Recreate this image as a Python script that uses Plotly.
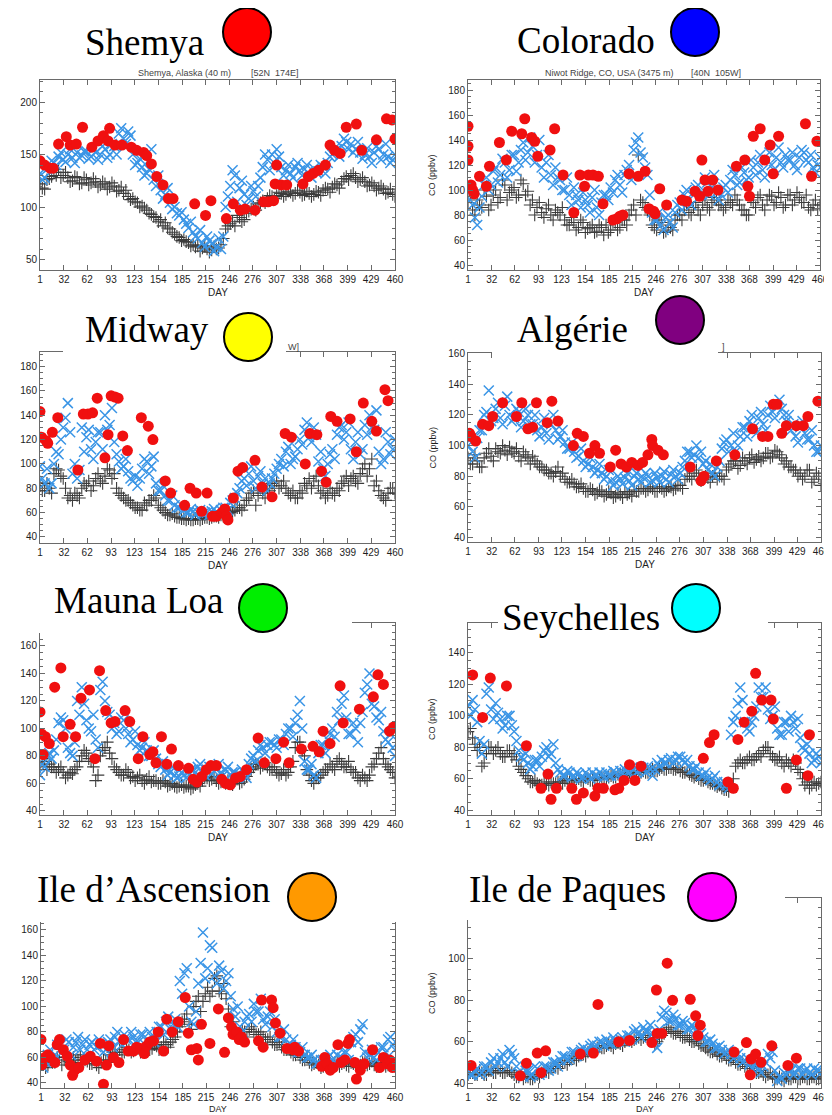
import plotly.graph_objects as go

# page window is 832x1115; the html body has an 8px margin, so the figure is 8px smaller
PAGE_W, PAGE_H, OFF = 832, 1115, 8
W, H = PAGE_W - OFF, PAGE_H - OFF

MODEL_DAYS = [1, 7, 13, 19, 25, 31, 37, 43, 49, 55, 61, 67, 73, 79, 85, 91, 97, 103, 109, 115,
              121, 127, 133, 139, 145, 151, 157, 163, 169, 175, 181, 187, 193, 199, 205, 211, 217,
              223, 229, 235, 241, 247, 253, 259, 265, 271, 277, 283, 289, 295, 301, 307, 313, 319,
              325, 331, 337, 343, 349, 355, 361, 367, 373, 379, 385, 391, 397, 403, 409, 415, 421,
              427, 433, 439, 445, 451, 457]
MODEL_DAYS_ALT = [4, 10, 16, 22, 28, 34, 40, 46, 52, 58, 64, 70, 76, 82, 88, 94, 100, 106, 112, 118,
                  124, 130, 136, 142, 148, 154, 160, 166, 172, 178, 184, 190, 196, 202, 208, 214, 220,
                  226, 232, 238, 244, 250, 256, 262, 268, 274, 280, 286, 292, 298, 304, 310, 316, 322,
                  328, 334, 340, 346, 352, 358, 364, 370, 376, 382, 388, 394, 400, 406, 412, 418, 424,
                  430, 436, 442, 448, 454, 460]

XTICKS = [1, 32, 62, 93, 123, 154, 185, 215, 246, 276, 307, 338, 368, 399, 429, 460]

# ---------------- Shemya ----------------
shemya_obs_day = [1, 7, 14, 18, 25, 35, 40, 48, 56, 68, 76, 83, 89, 91, 98, 107, 119, 126, 135, 139,
                  145, 152, 160, 167, 173, 201, 215, 222, 242, 251, 260, 266, 279, 290, 296, 303, 305,
                  307, 313, 320, 341, 348, 354, 361, 370, 376, 382, 389, 397, 410, 417, 436, 449, 456, 460]
shemya_obs_co = [144, 140, 137, 137, 160, 167, 159, 160, 176, 157, 163, 168, 163, 175, 159, 159, 157, 154, 152, 149,
                 141, 129, 121, 108, 108, 103, 92, 106, 89, 103, 97, 98, 97, 105, 105, 106, 122,
                 140, 121, 121, 122, 129, 132, 135, 140, 159, 154, 151, 176, 179, 154, 164, 184, 183, 165]
shemya_model_a = [132, 128, 138, 142, 148, 145, 150, 147, 152, 149,
                  153, 148, 152, 150, 155, 150, 158, 170, 165, 172,
                  150, 142, 138, 132, 155, 120, 116, 112, 104, 100,
                  92, 88, 80, 76, 70, 66, 72, 65, 62, 60,
                  100, 120, 130, 118, 112, 108, 115, 120, 138, 145,
                  150, 155, 138, 135, 132, 138, 135, 136, 132, 137,
                  134, 138, 142, 150, 155, 158, 162, 160, 155, 152,
                  150, 148, 152, 155, 150, 148, 145]
shemya_model_a_alt = [126, 136, 144, 140, 152, 143, 155, 142, 147, 153,
                      146, 155, 145, 158, 147, 160, 150, 175, 160, 168,
                      140, 146, 130, 136, 126, 130, 108, 118, 98, 94,
                      95, 84, 86, 72, 78, 62, 68, 58, 70, 72,
                      110, 135, 105, 125, 102, 120, 110, 128, 150, 135,
                      142, 148, 130, 140, 128, 142, 130, 140, 128, 133,
                      140, 132, 148, 156, 148, 165, 155, 152, 162, 146,
                      156, 142, 158, 145, 160, 142, 150]
shemya_model_b = [122, 117, 127, 133, 136, 130, 128, 125, 128, 123,
                  126, 123, 124, 121, 122, 119, 120, 116, 113, 110,
                  108, 104, 101, 97, 93, 90, 88, 85, 79, 74,
                  71, 69, 66, 64, 63, 61, 60, 59, 60, 64,
                  79, 84, 82, 90, 88, 96, 100, 103, 106, 108,
                  110, 111, 113, 112, 114, 113, 114, 112, 113, 112,
                  114, 116, 117, 119, 121, 124, 129, 130, 128, 126,
                  124, 121, 120, 118, 117, 114, 112]
shemya_model_b_alt = [118, 126, 129, 130, 128, 133, 124, 129, 122, 128,
                      121, 127, 119, 124, 117, 123, 115, 119, 116, 107,
                      105, 100, 99, 94, 91, 86, 82, 80, 76, 72,
                      68, 67, 63, 62, 58, 63, 57, 62, 61, 70,
                      82, 86, 92, 86, 94, 98, 97, 104, 104, 111,
                      108, 114, 110, 115, 111, 116, 111, 115, 110, 115,
                      111, 118, 114, 122, 118, 127, 126, 132, 124, 128,
                      120, 123, 116, 120, 113, 117, 110]

# ---------------- Colorado ----------------
colorado_obs_day = [1, 1, 1, 5, 7, 9, 16, 25, 29, 42, 51, 58, 71, 75, 84, 88, 92, 108, 114, 125, 139,
                    147, 153, 158, 164, 171, 177, 190, 195, 199, 203, 211, 223, 232, 237, 243, 245, 251,
                    260, 280, 286, 297, 303, 306, 310, 314, 320, 327, 351, 362, 366, 368, 373, 382, 388,
                    395, 399, 406, 441, 449, 456]
colorado_obs_co = [151, 135, 124, 104, 100, 97, 111, 103, 119, 138, 124, 147, 145, 157, 142, 139, 127, 132, 149, 112, 82,
                   112, 103, 112, 112, 111, 89, 76, 77, 79, 80, 113, 111, 115, 85, 83, 81, 101,
                   88, 92, 91, 99, 95, 124, 108, 99, 108, 100, 119, 124, 103, 95, 143, 149, 124,
                   136, 113, 143, 153, 111, 139]
colorado_model_a = [98, 88, 72, 95, 110, 104, 118, 112, 122, 116,
                    128, 122, 138, 130, 135, 128, 118, 122, 112, 118,
                    108, 100, 96, 102, 92, 98, 88, 94, 86, 90,
                    96, 102, 108, 104, 112, 120, 132, 142, 126, 112,
                    82, 76, 72, 78, 74, 82, 90, 96, 92, 98,
                    104, 98, 106, 102, 98, 96, 104, 108, 112, 106,
                    114, 110, 118, 122, 116, 124, 120, 126, 122, 128,
                    124, 120, 126, 130, 122, 118, 120]
colorado_model_a_alt = [92, 78, 86, 104, 100, 115, 106, 125, 110, 128,
                        115, 132, 124, 142, 122, 140, 110, 128, 104, 110,
                        100, 110, 88, 96, 86, 92, 82, 100, 80, 96,
                        92, 98, 112, 98, 116, 108, 138, 130, 118, 96,
                        76, 82, 68, 80, 70, 88, 84, 100, 88, 102,
                        96, 110, 96, 112, 92, 102, 98, 116, 104, 118,
                        108, 124, 112, 128, 110, 130, 116, 134, 118, 124,
                        130, 116, 132, 124, 128, 114, 126]
colorado_model_b = [90, 84, 92, 86, 95, 88, 100, 94, 104, 98,
                    102, 96, 105, 99, 92, 86, 82, 85, 80, 84,
                    80, 76, 72, 74, 70, 74, 69, 72, 67, 70,
                    72, 68, 74, 70, 76, 80, 88, 128, 90, 84,
                    72, 68, 74, 67, 70, 76, 80, 84, 82, 86,
                    84, 88, 86, 90, 92, 88, 86, 90, 96, 88,
                    84, 80, 90, 94, 88, 92, 95, 90, 94, 88,
                    96, 92, 94, 90, 86, 88, 85]
colorado_model_b_alt = [96, 80, 88, 100, 84, 96, 90, 108, 92, 100,
                        94, 108, 96, 88, 80, 90, 78, 88, 76, 82,
                        86, 72, 78, 68, 76, 66, 70, 66, 72, 64,
                        66, 74, 68, 76, 72, 84, 80, 92, 86, 80,
                        70, 76, 66, 72, 68, 80, 76, 88, 80, 90,
                        80, 92, 84, 94, 88, 84, 92, 88, 92, 84,
                        80, 92, 86, 96, 84, 96, 88, 98, 86, 96,
                        88, 98, 90, 96, 84, 92, 88]

# ---------------- Midway ----------------
midway_obs_day = [1, 3, 9, 11, 17, 24, 50, 57, 63, 69, 75, 85, 89, 93, 98, 102, 108, 114, 132, 141, 147,
                  163, 170, 188, 195, 203, 210, 217, 224, 229, 236, 240, 242, 244, 251, 257, 263, 279,
                  288, 301, 318, 326, 344, 350, 359, 365, 371, 377, 385, 402, 410, 419, 430, 436, 447, 451]
midway_obs_co = [143, 122, 119, 117, 126, 138, 95, 141, 141, 142, 154, 105, 124, 156, 155, 154, 123, 111, 138, 131, 120,
                 86, 76, 66, 80, 76, 61, 76, 57, 57, 60, 63, 57, 54, 72, 94, 97, 103,
                 81, 73, 125, 122, 100, 125, 124, 94, 85, 139, 135, 137, 110, 150, 135, 127, 161, 152]
midway_model_a = [98, 84, 80, 100, 108, 130, 150, 92, 88, 130,
                  122, 112, 118, 126, 140, 132, 118, 102, 98, 94,
                  86, 82, 96, 102, 98, 84, 78, 74, 70, 66,
                  64, 62, 60, 61, 60, 59, 60, 61, 60, 62,
                  64, 68, 72, 80, 88, 92, 86, 90, 84, 78,
                  88, 96, 104, 110, 100, 106, 120, 128, 122, 130,
                  102, 96, 100, 112, 124, 132, 126, 112, 118, 108,
                  132, 140, 128, 110, 104, 118, 112]
midway_model_a_alt = [88, 96, 84, 110, 120, 138, 126, 100, 95, 110,
                      128, 104, 126, 112, 128, 146, 108, 96, 104, 88,
                      90, 88, 104, 92, 106, 78, 82, 70, 74, 64,
                      66, 60, 63, 58, 62, 60, 58, 63, 59, 64,
                      62, 70, 76, 86, 82, 98, 80, 94, 88, 84,
                      92, 100, 98, 114, 104, 112, 116, 134, 118, 124,
                      110, 90, 108, 104, 130, 120, 134, 104, 126, 112,
                      124, 130, 144, 100, 126, 108, 120]
midway_model_b = [82, 78, 80, 92, 95, 88, 72, 70, 74, 80,
                  82, 78, 88, 86, 90, 95, 92, 76, 72, 70,
                  66, 64, 62, 66, 70, 72, 64, 60, 58, 57,
                  56, 55, 55, 54, 55, 55, 56, 56, 57, 58,
                  58, 60, 62, 64, 66, 72, 78, 74, 76, 80,
                  84, 86, 82, 80, 74, 72, 78, 84, 88, 86,
                  82, 78, 74, 76, 80, 84, 90, 88, 86, 92,
                  100, 96, 82, 78, 72, 76, 80]
midway_model_b_alt = [78, 84, 76, 96, 90, 80, 74, 76, 72, 84,
                      86, 82, 92, 84, 96, 88, 80, 74, 70, 68,
                      64, 62, 68, 70, 74, 66, 62, 58, 59, 56,
                      55, 54, 54, 55, 54, 56, 55, 57, 56, 57,
                      59, 61, 64, 62, 70, 76, 66, 80, 72, 78,
                      82, 80, 86, 76, 78, 72, 76, 82, 80, 90,
                      76, 72, 80, 74, 78, 86, 82, 90, 84, 96,
                      90, 104, 86, 74, 70, 80, 76]

# ---------------- Algerie ----------------
algerie_obs_day = [3, 5, 11, 20, 28, 33, 46, 64, 71, 79, 85, 90, 104, 110, 118, 138, 143, 151, 159, 166,
                   172, 186, 193, 200, 207, 214, 222, 228, 235, 240, 241, 248, 255, 290, 304, 308, 324,
                   348, 371, 384, 391, 398, 403, 409, 415, 428, 437, 443, 456]
algerie_obs_co = [108, 106, 103, 114, 113, 119, 128, 119, 128, 111, 112, 128, 115, 129, 116, 100, 108, 106, 95, 100,
                  95, 86, 97, 88, 86, 89, 87, 89, 94, 104, 100, 97, 94, 86, 77, 80, 90,
                  94, 111, 106, 106, 127, 127, 108, 113, 113, 113, 119, 129]
algerie_model_a = [100, 96, 105, 110, 122, 116, 124, 118, 126, 120,
                   118, 122, 116, 120, 114, 110, 112, 108, 114, 110,
                   106, 102, 98, 96, 93, 90, 88, 86, 84, 82,
                   80, 77, 76, 78, 79, 77, 80, 78, 79, 80,
                   77, 79, 80, 78, 81, 80, 82, 90, 96, 94,
                   92, 88, 84, 82, 86, 98, 104, 100, 96, 106,
                   112, 116, 112, 118, 114, 120, 122, 126, 124, 116,
                   110, 106, 112, 108, 104, 100, 96]
algerie_model_a_alt = [104, 92, 110, 120, 136, 118, 128, 114, 132, 116,
                       124, 112, 124, 114, 120, 106, 118, 104, 120, 104,
                       110, 98, 102, 92, 98, 86, 92, 82, 88, 78,
                       84, 74, 80, 75, 82, 74, 82, 76, 82, 76,
                       82, 76, 83, 76, 84, 78, 86, 96, 92, 100,
                       96, 90, 88, 80, 90, 102, 96, 108, 100, 112,
                       106, 120, 108, 122, 110, 126, 118, 130, 120, 120,
                       114, 102, 116, 104, 110, 96, 100]
algerie_model_b = [92, 88, 90, 86, 95, 93, 98, 95, 97, 99,
                   95, 93, 96, 92, 93, 88, 86, 84, 82, 83,
                   80, 78, 76, 75, 73, 72, 70, 71, 69, 70,
                   68, 69, 67, 68, 70, 69, 71, 70, 72, 71,
                   72, 70, 72, 71, 73, 72, 74, 78, 80, 82,
                   80, 78, 79, 80, 78, 80, 84, 88, 90, 87,
                   90, 92, 89, 93, 92, 95, 93, 96, 92, 90,
                   86, 84, 82, 80, 84, 78, 80]
algerie_model_b_alt = [88, 94, 86, 92, 98, 90, 96, 100, 94, 96,
                       98, 90, 94, 88, 90, 86, 84, 82, 80, 86,
                       82, 76, 78, 73, 75, 70, 72, 68, 71, 67,
                       70, 66, 69, 66, 68, 67, 70, 72, 70, 73,
                       70, 73, 70, 73, 71, 74, 72, 80, 78, 84,
                       77, 80, 76, 82, 80, 78, 86, 90, 85, 92,
                       88, 94, 91, 90, 95, 92, 97, 94, 88, 86,
                       84, 80, 78, 84, 76, 82, 74]

# ---------------- Mauna Loa ----------------
maunaloa_obs_day = [1, 3, 5, 8, 13, 20, 28, 31, 40, 47, 54, 65, 72, 78, 86, 93, 98, 111, 117, 128, 134,
                    143, 147, 151, 158, 165, 171, 180, 193, 199, 204, 210, 216, 222, 229, 236, 241, 247,
                    254, 260, 268, 283, 291, 306, 316, 323, 339, 354, 362, 367, 376, 389, 393, 414, 432,
                    438, 445, 453, 458]
maunaloa_obs_co = [112, 96, 81, 94, 89, 130, 144, 94, 103, 94, 122, 128, 78, 142, 113, 104, 105, 113, 105, 78, 94,
                   81, 83, 75, 94, 74, 85, 73, 71, 63, 61, 65, 70, 73, 73, 63, 60, 59,
                   64, 65, 70, 93, 75, 78, 90, 75, 85, 87, 83, 98, 89, 131, 104, 114, 123,
                   139, 132, 98, 101]
maunaloa_model_a = [66, 72, 82, 84, 104, 106, 86, 80, 120, 130,
                    106, 98, 92, 128, 120, 110, 104, 98, 106, 96,
                    92, 88, 86, 84, 80, 78, 72, 70, 68, 66,
                    65, 66, 68, 70, 72, 68, 70, 67, 70, 68,
                    70, 66, 68, 66, 68, 74, 80, 84, 86, 88,
                    90, 86, 92, 96, 100, 104, 120, 76, 70, 66,
                    82, 88, 92, 100, 112, 118, 108, 96, 100, 104,
                    126, 140, 116, 106, 98, 90, 86]
maunaloa_model_a_alt = [74, 80, 78, 92, 108, 100, 82, 90, 110, 118,
                        100, 110, 86, 134, 112, 100, 96, 108, 100, 90,
                        98, 84, 90, 80, 84, 74, 76, 66, 72, 64,
                        68, 64, 70, 68, 74, 66, 72, 69, 74, 66,
                        72, 68, 66, 70, 64, 78, 76, 88, 82, 90,
                        88, 92, 88, 100, 94, 110, 100, 70, 74, 64,
                        88, 82, 96, 94, 106, 124, 96, 104, 90, 112,
                        132, 118, 108, 112, 92, 96, 80]
maunaloa_model_b = [72, 76, 74, 72, 70, 68, 66, 67, 72, 80,
                    82, 76, 62, 80, 86, 82, 72, 68, 66, 68,
                    65, 64, 62, 63, 61, 62, 60, 61, 59, 58,
                    58, 57, 58, 57, 60, 62, 64, 63, 62, 61,
                    60, 61, 62, 60, 63, 68, 72, 74, 73, 72,
                    70, 68, 67, 66, 72, 86, 90, 80, 66, 60,
                    64, 68, 70, 72, 76, 74, 72, 70, 68, 62,
                    64, 66, 74, 82, 78, 72, 68]
maunaloa_model_b_alt = [78, 70, 72, 68, 72, 64, 68, 70, 76, 84,
                        78, 72, 66, 84, 90, 78, 70, 66, 70, 64,
                        62, 66, 60, 65, 62, 60, 62, 58, 60, 57,
                        59, 58, 56, 59, 58, 64, 62, 65, 60, 63,
                        62, 59, 64, 61, 65, 70, 74, 71, 75, 70,
                        72, 66, 70, 68, 76, 90, 84, 70, 62, 64,
                        66, 70, 74, 70, 78, 72, 76, 68, 64, 66,
                        62, 72, 78, 86, 74, 70, 64]

# ---------------- Seychelles ----------------
seychelles_obs_day = [7, 20, 30, 51, 77, 96, 105, 109, 116, 136, 142, 151, 166, 170, 177, 192, 197, 204,
                      211, 218, 226, 307, 315, 321, 339, 346, 352, 360, 370, 375, 383, 395, 398, 415,
                      428, 443, 445]
seychelles_obs_co = [126, 99, 124, 119, 81, 54, 63, 47, 54, 54, 47, 51, 49, 54, 54, 53, 54, 59,
                     69, 59, 68, 73, 83, 88, 58, 54, 85, 96, 103, 127, 110, 110, 98, 54,
                     72, 62, 88]
seychelles_model_a = [106, 110, 96, 76, 114, 104, 108, 98, 94, 100,
                      90, 78, 72, 70, 68, 72, 74, 80, 76, 70,
                      64, 62, 64, 62, 63, 61, 62, 64, 62, 63,
                      64, 62, 64, 65, 66, 64, 66, 65, 67, 68,
                      62, 70, 72, 70, 73, 72, 74, 70, 68, 66,
                      64, 62, 61, 60, 58, 57, 56, 88, 100, 118,
                      96, 90, 100, 118, 112, 104, 100, 92, 88, 96,
                      100, 92, 86, 78, 76, 72, 74]
seychelles_model_a_alt = [100, 104, 84, 82, 118, 98, 102, 92, 100, 94,
                          84, 74, 76, 66, 72, 68, 78, 74, 82, 66,
                          62, 65, 61, 64, 60, 64, 60, 62, 64, 61,
                          62, 65, 62, 63, 64, 67, 64, 67, 64, 66,
                          66, 68, 70, 72, 70, 74, 72, 72, 66, 68,
                          62, 64, 59, 62, 56, 58, 54, 96, 108, 110,
                          92, 96, 106, 112, 118, 98, 106, 88, 96, 90,
                          96, 98, 80, 82, 70, 76, 70]
seychelles_model_b = [90, 86, 78, 68, 76, 80, 78, 76, 74, 78,
                      76, 68, 64, 60, 58, 57, 56, 57, 58, 57,
                      58, 59, 60, 59, 60, 58, 60, 59, 60, 61,
                      60, 62, 61, 63, 62, 64, 63, 64, 65, 64,
                      66, 65, 67, 66, 67, 66, 65, 64, 63, 61,
                      60, 59, 58, 57, 55, 54, 53, 56, 68, 72,
                      70, 74, 72, 76, 78, 80, 74, 72, 70, 72,
                      68, 70, 64, 56, 54, 58, 57]
seychelles_model_b_alt = [92, 82, 80, 70, 80, 76, 80, 74, 78, 74,
                          72, 66, 62, 58, 59, 56, 58, 56, 57, 58,
                          57, 60, 58, 60, 59, 61, 59, 60, 61, 60,
                          61, 61, 63, 62, 63, 63, 65, 64, 64, 65,
                          65, 66, 66, 67, 66, 67, 64, 65, 62, 62,
                          59, 60, 57, 56, 56, 53, 52, 60, 70, 70,
                          72, 72, 74, 74, 80, 76, 72, 74, 68, 70,
                          72, 66, 60, 58, 56, 56, 58]

# ---------------- Ile d'Ascension ----------------
ascension_obs_day = [1, 2, 6, 10, 13, 19, 22, 25, 30, 35, 39, 42, 45, 50, 58, 65, 73, 78, 82, 86, 89, 95,
                     102, 108, 114, 121, 125, 130, 135, 138, 142, 147, 153, 160, 164, 171, 179, 188, 192,
                     196, 203, 205, 209, 220, 231, 239, 244, 248, 250, 255, 258, 261, 265, 283, 287, 289,
                     300, 302, 305, 311, 320, 328, 330, 335, 365, 369, 372, 376, 380, 386, 390, 395, 399,
                     401, 408, 410, 415, 420, 431, 440, 445, 450, 453, 457]
ascension_obs_co = [74, 54, 60, 62, 60, 56, 70, 74, 66, 61, 54, 46, 50, 52, 58, 61, 57, 71, 39, 54, 69, 60,
                    56, 74, 65, 65, 68, 67, 63, 69, 72, 73, 80, 65, 90, 80, 88, 107, 79,
                    66, 67, 58, 86, 71, 98, 64, 91, 84, 78, 80, 74, 76, 72, 73, 105, 68,
                    105, 99, 87, 79, 67, 66, 68, 65, 53, 60, 55, 50, 52, 70, 56, 58, 71,
                    74, 56, 43, 50, 55, 66, 52, 60, 55, 58, 52]
ascension_model_a = [60, 56, 66, 62, 70, 66, 72, 68, 76, 70,
                     66, 72, 68, 70, 66, 74, 76, 72, 78, 74,
                     76, 72, 78, 74, 76, 80, 84, 88, 82, 90,
                     120, 126, 100, 86, 118, 158, 130, 146, 118, 128,
                     120, 108, 92, 84, 88, 94, 102, 96, 90, 92,
                     84, 80, 76, 74, 70, 68, 64, 62, 60, 58,
                     56, 58, 60, 58, 62, 60, 64, 72, 78, 82,
                     64, 62, 60, 64, 68, 74, 70]
ascension_model_a_alt = [52, 62, 58, 70, 64, 74, 62, 72, 66, 74,
                         70, 66, 74, 64, 72, 68, 80, 70, 74, 80,
                         72, 78, 70, 80, 72, 84, 78, 92, 86, 84,
                         110, 130, 88, 96, 134, 122, 148, 124, 132, 114,
                         126, 98, 100, 80, 92, 88, 96, 106, 86, 96,
                         90, 76, 82, 70, 74, 64, 68, 60, 62, 55,
                         58, 54, 62, 56, 60, 64, 58, 76, 72, 86,
                         60, 66, 58, 68, 64, 76, 66]
ascension_model_b = [55, 52, 58, 56, 60, 58, 57, 60, 58, 56,
                     57, 55, 54, 56, 58, 62, 64, 66, 64, 66,
                     65, 67, 66, 68, 67, 69, 68, 70, 72, 76,
                     84, 90, 86, 100, 108, 104, 115, 112, 124, 110,
                     106, 84, 80, 78, 80, 82, 80, 78, 76, 74,
                     72, 70, 68, 66, 64, 62, 60, 58, 56, 55,
                     54, 53, 55, 54, 56, 55, 54, 56, 55, 54,
                     56, 55, 54, 56, 55, 54, 56]
ascension_model_b_alt = [58, 54, 56, 60, 54, 60, 56, 58, 62, 58,
                         55, 58, 52, 58, 56, 64, 62, 64, 68, 64,
                         67, 64, 69, 66, 70, 66, 72, 68, 74, 80,
                         88, 94, 82, 104, 96, 110, 108, 122, 112, 118,
                         98, 88, 76, 82, 76, 84, 78, 80, 74, 76,
                         70, 72, 66, 68, 62, 64, 58, 60, 54, 56,
                         52, 55, 53, 56, 53, 56, 53, 55, 52, 56,
                         54, 57, 53, 55, 53, 56, 53]

# ---------------- Ile de Paques ----------------
paques_obs_day = [5, 69, 77, 91, 96, 102, 147, 164, 170, 197, 211, 240, 246, 247, 253, 260, 267, 290,
                  297, 300, 303, 347, 363, 368, 369, 375, 382, 396, 417, 428]
paques_obs_co = [48.5, 43.5, 49.6, 54.5, 45, 55.6, 54, 54.5, 78, 60, 60.6, 59.6, 85, 64, 64, 98, 80, 80.5,
                 72.5, 63, 68, 55, 59.6, 44, 51.6, 54, 50, 58, 48.5, 52]
paques_model_a = [46, 44, 47, 45, 48, 50, 48, 52, 50, 56,
                  52, 45, 43, 46, 44, 47, 45, 48, 47, 50,
                  51, 53, 52, 55, 54, 57, 56, 59, 58, 60,
                  61, 59, 60, 61, 60, 63, 65, 64, 67, 65,
                  64, 57, 72, 74, 70, 71, 68, 69, 66, 67,
                  63, 62, 60, 59, 57, 56, 55, 54, 53, 52,
                  51, 49, 48, 47, 48, 54, 55, 41, 42, 44,
                  46, 45, 47, 46, 45, 47, 46]
paques_model_a_alt = [44, 46, 44, 48, 46, 52, 50, 54, 48, 54,
                      48, 44, 46, 43, 48, 44, 48, 46, 50, 48,
                      53, 51, 55, 53, 56, 55, 58, 57, 60, 58,
                      59, 62, 60, 62, 63, 61, 66, 62, 65, 68,
                      60, 66, 75, 70, 73, 68, 70, 66, 68, 65,
                      64, 60, 61, 57, 58, 54, 56, 52, 54, 50,
                      52, 47, 50, 45, 50, 52, 46, 43, 45, 46,
                      44, 47, 44, 47, 44, 46, 45]
paques_model_b = [44, 45, 44, 45, 44, 46, 45, 46, 45, 46,
                  44, 43, 42, 43, 42, 44, 45, 46, 47, 48,
                  49, 50, 51, 52, 53, 54, 55, 56, 57, 57,
                  58, 58, 59, 59, 60, 61, 61, 62, 62, 62,
                  61, 60, 63, 66, 65, 64, 63, 62, 61, 60,
                  59, 58, 56, 55, 54, 53, 52, 51, 50, 49,
                  48, 47, 46, 45, 44, 44, 43, 42, 42, 43,
                  42, 43, 42, 43, 42, 43, 42]
paques_model_b_alt = [45, 44, 46, 44, 46, 45, 47, 45, 46, 45,
                      43, 44, 43, 42, 43, 43, 46, 45, 48, 47,
                      50, 49, 52, 51, 54, 53, 56, 55, 58, 57,
                      59, 57, 60, 58, 61, 60, 62, 61, 63, 61,
                      59, 62, 64, 67, 64, 65, 62, 63, 60, 61,
                      58, 57, 55, 56, 53, 54, 51, 52, 49, 50,
                      47, 48, 45, 46, 43, 45, 42, 43, 41, 42,
                      43, 42, 43, 42, 43, 42, 43]

# ---------------- panel layout (page pixels) ----------------
PANELS = [
    dict(name="Shemya", dot="#ff0000", frame=(40, 395, 80, 270), yr=(40, 221), yt=[50, 100, 150, 200], ym=10,
         obs=(shemya_obs_day, shemya_obs_co), a=(shemya_model_a, shemya_model_a_alt),
         b=(shemya_model_b, shemya_model_b_alt),
         lab=(83, 55), circ=(247, 32), box=(70, 292, 8, 67), ytitle=False,
         sub=("Shemya, Alaska (40 m)        [52N  174E]", 218, 73, "center")),
    dict(name="Colorado", dot="#0000ff", frame=(468, 820, 80, 270), yr=(36, 188), yt=[40, 60, 80, 100, 120, 140, 160, 180], ym=5,
         obs=(colorado_obs_day, colorado_obs_co), a=(colorado_model_a, colorado_model_a_alt),
         b=(colorado_model_b, colorado_model_b_alt),
         lab=(515, 53), circ=(695, 32), box=(498, 780, 8, 67), ytitle=True,
         sub=("Niwot Ridge, CO, USA (3475 m)       [40N  105W]", 643, 73, "center")),
    dict(name="Midway", dot="#ffff00", frame=(40, 395, 352, 543), yr=(35, 192), yt=[40, 60, 80, 100, 120, 140, 160, 180], ym=5,
         obs=(midway_obs_day, midway_obs_co), a=(midway_model_a, midway_model_a_alt),
         b=(midway_model_b, midway_model_b_alt),
         lab=(83, 342), circ=(248, 337), box=(63, 286, 301, 357), ytitle=False,
         sub=("W]", 301, 347, "right")),
    dict(name="Algérie", dot="#800080", frame=(468, 821, 353, 542), yr=(37, 160.5), yt=[40, 60, 80, 100, 120, 140, 160], ym=5,
         obs=(algerie_obs_day, algerie_obs_co), a=(algerie_model_a, algerie_model_a_alt),
         b=(algerie_model_b, algerie_model_b_alt),
         lab=(515, 342), circ=(680, 320), box=(492, 718, 301, 360), ytitle=True,
         sub=("]", 727, 347, "right")),
    dict(name="Mauna Loa", dot="#00ee00", frame=(40, 395, 623, 815), yr=(37, 176.7), yt=[40, 60, 80, 100, 120, 140, 160], ym=5,
         obs=(maunaloa_obs_day, maunaloa_obs_co), a=(maunaloa_model_a, maunaloa_model_a_alt),
         b=(maunaloa_model_b, maunaloa_model_b_alt),
         lab=(52, 613), circ=(263, 608), box=(36, 352, 574, 633), ytitle=False, sub=None),
    dict(name="Seychelles", dot="#00ffff", frame=(468, 821, 623, 815), yr=(37, 159), yt=[40, 60, 80, 100, 120, 140], ym=5,
         obs=(seychelles_obs_day, seychelles_obs_co), a=(seychelles_model_a, seychelles_model_a_alt),
         b=(seychelles_model_b, seychelles_model_b_alt),
         lab=(500, 630), circ=(696, 608), box=(498, 768, 574, 640), ytitle=True, sub=None),
    dict(name="Ile d\u2019Ascension", dot="#ff9900", frame=(41, 395, 900, 1088), yr=(36, 183.5), yt=[40, 60, 80, 100, 120, 140, 160], ym=5,
         obs=(ascension_obs_day, ascension_obs_co), a=(ascension_model_a, ascension_model_a_alt),
         b=(ascension_model_b, ascension_model_b_alt),
         lab=(35, 902), circ=(312, 897), box=(30, 399, 846, 922), ytitle=False, sub=None),
    dict(name="Ile de Paques", dot="#ff00ff", frame=(468, 821, 898, 1088), yr=(37.6, 129.5), yt=[40, 60, 80, 100], ym=5,
         obs=(paques_obs_day, paques_obs_co), a=(paques_model_a, paques_model_a_alt),
         b=(paques_model_b, paques_model_b_alt),
         lab=(467, 902), circ=(712, 897), box=(445, 785, 846, 920), ytitle=True, sub=None),
]

RED = "#f01010"
BLUE = "#3a95e6"
BLACK = "#3c3c3c"
AXIS = "#6a6a6a"
TICKFONT = dict(family="Liberation Sans", size=10, color="#1e1e1e")


def fx(px):
    return (px - OFF) / W


def fy(py):
    return 1 - (py - OFF) / H


fig = go.Figure()
layout = dict(width=W, height=H, margin=dict(l=0, r=0, t=0, b=0, autoexpand=False),
              paper_bgcolor="white", plot_bgcolor="white", showlegend=False)
shapes, annotations = [], []

for i, p in enumerate(PANELS, start=1):
    sfx = "" if i == 1 else str(i)
    xa, ya = "x" + sfx, "y" + sfx
    l, r, t, b = p["frame"]

    fig.add_trace(go.Scatter(x=MODEL_DAYS + MODEL_DAYS_ALT, y=p["b"][0] + p["b"][1], mode="markers",
                             xaxis=xa, yaxis=ya,
                             marker=dict(symbol="cross-thin", size=9, line=dict(width=1.1, color=BLACK)),
                             hoverinfo="skip"))
    fig.add_trace(go.Scatter(x=MODEL_DAYS + MODEL_DAYS_ALT, y=p["a"][0] + p["a"][1], mode="markers",
                             xaxis=xa, yaxis=ya,
                             marker=dict(symbol="x-thin", size=10, line=dict(width=1.5, color=BLUE)),
                             hoverinfo="skip"))
    fig.add_trace(go.Scatter(x=p["obs"][0], y=p["obs"][1], mode="markers", xaxis=xa, yaxis=ya,
                             marker=dict(symbol="circle", size=11, color=RED, line=dict(width=0)),
                             hoverinfo="skip"))

    layout["xaxis" + sfx] = dict(domain=[fx(l), fx(r)], anchor=ya, range=[1, 460], automargin=False,
                                 tickmode="array", tickvals=XTICKS, ticktext=[str(v) for v in XTICKS],
                                 ticks="inside", ticklen=5, tickcolor=AXIS, showline=True, linecolor=AXIS,
                                 linewidth=1, mirror="ticks", showgrid=False, zeroline=False,
                                 tickfont=TICKFONT, tickangle=0)
    layout["yaxis" + sfx] = dict(domain=[fy(b), fy(t)], anchor=xa, range=list(p["yr"]), automargin=False,
                                 tickmode="array", tickvals=p["yt"], ticktext=[str(v) for v in p["yt"]],
                                 ticks="inside", ticklen=5, tickcolor=AXIS, showline=True, linecolor=AXIS,
                                 linewidth=1, mirror="ticks", showgrid=False, zeroline=False,
                                 tickfont=TICKFONT,
                                 minor=dict(ticks="inside", ticklen=3, dtick=p["ym"], tickcolor=AXIS))

    # DAY label
    if b > 1000:
        day_y, day_size = b + 21, 9
    else:
        day_y, day_size = b + 22, 10
    annotations.append(dict(text="DAY", x=fx((l + r) / 2), y=fy(day_y), xref="paper", yref="paper",
                            showarrow=False, xanchor="center", yanchor="middle",
                            font=dict(family="Liberation Sans", size=day_size, color="#1e1e1e")))
    if p["ytitle"]:
        annotations.append(dict(text="CO (ppbv)", x=fx(432), y=fy((t + b) / 2), xref="paper", yref="paper",
                                showarrow=False, textangle=-90, xanchor="center", yanchor="middle",
                                font=dict(family="Liberation Sans", size=9, color="#1e1e1e")))
    if p["sub"]:
        txt, sx, sy, anchor = p["sub"]
        annotations.append(dict(text=txt, x=fx(sx), y=fy(sy), xref="paper", yref="paper",
                                showarrow=False, xanchor=anchor, yanchor="middle",
                                font=dict(family="Liberation Sans", size=9, color="#444")))

    # white label box
    bx0, bx1, by0, by1 = p["box"]
    shapes.append(dict(type="rect", xref="paper", yref="paper", x0=fx(bx0), x1=fx(bx1),
                       y0=fy(by1), y1=fy(by0), fillcolor="white", line=dict(width=0), layer="above"))
    # station name
    lx, lb = p["lab"]
    annotations.append(dict(text=p["name"], x=fx(lx), y=fy(lb - 12.5), xref="paper", yref="paper",
                            showarrow=False, xanchor="left", yanchor="middle",
                            font=dict(family="Liberation Serif", size=37, color="black")))

for p in PANELS:
    cx, cy = p["circ"]
    rr = 24
    shapes.append(dict(type="circle", xref="paper", yref="paper", x0=fx(cx - rr), x1=fx(cx + rr),
                       y0=fy(cy + rr), y1=fy(cy - rr), fillcolor=p["dot"],
                       line=dict(color="black", width=2), layer="above"))

layout["shapes"] = shapes
layout["annotations"] = annotations
fig.update_layout(**layout)
fig.write_html("out.html")
